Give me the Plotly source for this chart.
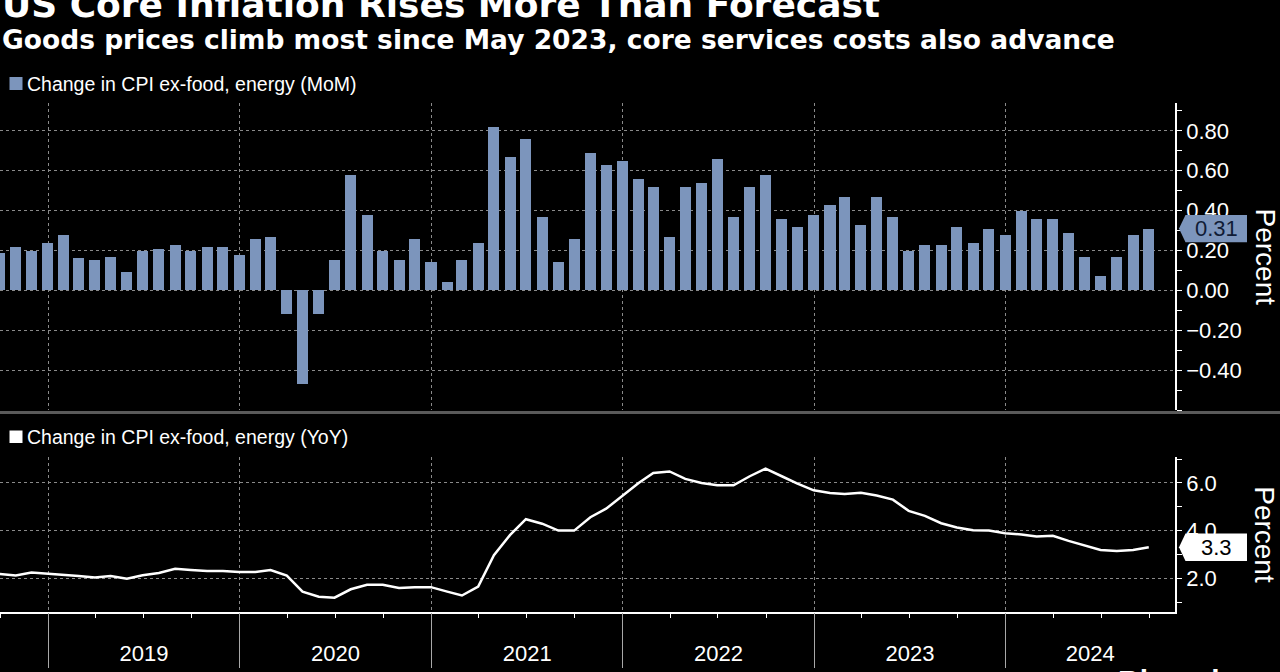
import plotly.graph_objects as go
import pandas as pd

# ---------------- data ----------------
months = pd.date_range("2018-09-01", periods=73, freq="MS") + pd.offsets.MonthEnd(0)

mom = [
    0.19, 0.22, 0.20, 0.24,                                              # 2018 Sep-Dec
    0.28, 0.16, 0.15, 0.17, 0.09, 0.20, 0.21, 0.23, 0.20, 0.22, 0.22, 0.18,  # 2019
    0.26, 0.27, -0.12, -0.47, -0.12, 0.15, 0.58, 0.38, 0.20, 0.15, 0.26, 0.14,  # 2020
    0.04, 0.15, 0.24, 0.82, 0.67, 0.76, 0.37, 0.14, 0.26, 0.69, 0.63, 0.65,  # 2021
    0.56, 0.52, 0.27, 0.52, 0.54, 0.66, 0.37, 0.52, 0.58, 0.36, 0.32, 0.38,  # 2022
    0.43, 0.47, 0.33, 0.47, 0.37, 0.20, 0.23, 0.23, 0.32, 0.24, 0.31, 0.28,  # 2023
    0.40, 0.36, 0.36, 0.29, 0.17, 0.07, 0.17, 0.28, 0.31,                # 2024 Jan-Sep
]

yoy = [
    2.18, 2.12, 2.24, 2.20,
    2.16, 2.10, 2.03, 2.10, 1.98, 2.13, 2.22, 2.40, 2.35, 2.31, 2.31, 2.27,
    2.27, 2.35, 2.11, 1.44, 1.23, 1.19, 1.54, 1.73, 1.73, 1.59, 1.63, 1.63,
    1.44, 1.28, 1.65, 2.97, 3.82, 4.48, 4.29, 4.00, 4.00, 4.56, 4.92, 5.47,
    6.00, 6.42, 6.48, 6.17, 6.00, 5.90, 5.90, 6.28, 6.60, 6.28, 5.97, 5.69,
    5.58, 5.54, 5.59, 5.47, 5.30, 4.83, 4.62, 4.31, 4.13, 4.02, 4.00, 3.89,
    3.84, 3.75, 3.78, 3.57, 3.36, 3.19, 3.15, 3.19, 3.30,
]

years = [2019, 2020, 2021, 2022, 2023, 2024]
mom_ticks = [-0.4, -0.2, 0.0, 0.2, 0.4, 0.6, 0.8]
yoy_ticks = [2.0, 4.0, 6.0]

title = "US Core Inflation Rises More Than Forecast"
subtitle = "Goods prices climb most since May 2023, core services costs also advance"
legend_mom = "Change in CPI ex-food, energy (MoM)"
legend_yoy = "Change in CPI ex-food, energy (YoY)"

# ---------------- styling / layout geometry ----------------
W, H = 1280, 672
ML, MR = 0, 105
PW = W - ML - MR

def py(p):
    return 1 - p / H

def px(p):
    return p / PW

BAR = "#7c95bc"
GRID = "#8a8a8a"
FONT = "Liberation Sans, Arial, sans-serif"
BOLD = "DejaVu Sans, Verdana, sans-serif"

x_range = [pd.Timestamp("2018-10-01"), pd.Timestamp("2024-11-19")]
mom_range = [-0.6, 0.94]
yoy_range = [0.6, 7.1]

# year label positions: centre of the visible part of each year
label_pos = []
for yr in years:
    a = max(pd.Timestamp(f"{yr}-01-01"), x_range[0])
    b = min(pd.Timestamp(f"{yr + 1}-01-01"), x_range[1])
    label_pos.append(a + (b - a) / 2)

fig = go.Figure()
fig.add_trace(go.Bar(
    x=months, y=mom, xaxis="x", yaxis="y",
    marker=dict(color=BAR, line=dict(width=0)),
    width=21 * 86400000, showlegend=False, hoverinfo="skip",
))
fig.add_trace(go.Scatter(
    x=months, y=yoy, xaxis="x2", yaxis="y2", mode="lines",
    line=dict(color="white", width=2.5), showlegend=False, hoverinfo="skip",
))
# empty trace so that the overlaid label axis (x3) gets drawn
fig.add_trace(go.Scatter(x=[], y=[], xaxis="x3", yaxis="y2", mode="lines",
                         showlegend=False, hoverinfo="skip"))

common_x = dict(type="date", range=x_range, showgrid=True, gridcolor=GRID,
                griddash="dot", gridwidth=1, dtick="M12", tick0="2019-01-01",
                zeroline=False, automargin=False)

top_dom = [py(410), py(103)]
bot_dom = [py(611.7), py(456.7)]

fig.update_layout(
    width=W, height=H,
    margin=dict(l=ML, r=MR, t=0, b=0, pad=0),
    paper_bgcolor="black", plot_bgcolor="black",
    font=dict(family=FONT, color="white"),
    bargap=0,
    xaxis=dict(common_x, domain=[0, 1], anchor="y", showticklabels=False,
               ticks="", showline=False),
    xaxis2=dict(common_x, domain=[0, 1], anchor="y2", showticklabels=False,
                ticks="outside", ticklen=55, tickwidth=1, tickcolor="#a8a8a8",
                showline=True, linecolor="white", linewidth=1.5,
                minor=dict(dtick="M3", tick0="2019-01-01", ticks="outside",
                           ticklen=5, tickwidth=1, tickcolor="white", showgrid=False)),
    xaxis3=dict(type="date", range=x_range, overlaying="x2", anchor="y2", side="bottom",
                tickmode="array", tickvals=label_pos, ticktext=[str(y) for y in years],
                ticks="outside", ticklen=22, tickcolor="rgba(0,0,0,0)",
                showgrid=False, showline=False, zeroline=False, showticklabels=True,
                tickfont=dict(size=22, color="white", family=FONT), automargin=False),
    yaxis=dict(domain=top_dom, anchor="x", side="right", range=mom_range,
               tickmode="array", tickvals=mom_ticks, tickformat=".2f",
               ticks="outside", ticklen=5, tickwidth=1, tickcolor="white",
               showline=True, linecolor="white", linewidth=1.5,
               showgrid=True, gridcolor=GRID, griddash="dot", gridwidth=1,
               zeroline=False, tickfont=dict(size=22, color="white"),
               minor=dict(tickmode="linear", tick0=0, dtick=0.1, ticks="outside",
                          ticklen=5, tickwidth=1, tickcolor="white", showgrid=False),
               automargin=False),
    yaxis2=dict(domain=bot_dom, anchor="x2", side="right", range=yoy_range,
                tickmode="array", tickvals=yoy_ticks, tickformat=".1f",
                ticks="outside", ticklen=5, tickwidth=1, tickcolor="white",
                showline=True, linecolor="white", linewidth=1.5,
                showgrid=True, gridcolor=GRID, griddash="dot", gridwidth=1,
                zeroline=False, tickfont=dict(size=22, color="white"),
                minor=dict(tickmode="linear", tick0=0, dtick=1, ticks="outside",
                           ticklen=5, tickwidth=1, tickcolor="white", showgrid=False),
                automargin=False),
)

shapes = []
annotations = []

# separator between the panels
shapes.append(dict(type="line", xref="paper", yref="paper", x0=0, x1=W / PW,
                   y0=py(412.5), y1=py(412.5), line=dict(color="#5a5a5a", width=3)))

# legend squares
shapes.append(dict(type="rect", xref="paper", yref="paper", x0=px(9.5), x1=px(22.5),
                   y0=py(90), y1=py(77), fillcolor=BAR, line=dict(width=0)))
shapes.append(dict(type="rect", xref="paper", yref="paper", x0=px(9.5), x1=px(22.5),
                   y0=py(443), y1=py(430.5), fillcolor="white", line=dict(width=0)))

annotations.append(dict(text=legend_mom, xref="paper", yref="paper", x=px(25), y=py(84),
                        xanchor="left", yanchor="middle", showarrow=False,
                        font=dict(size=19.5, color="white", family=FONT)))
annotations.append(dict(text=legend_yoy, xref="paper", yref="paper", x=px(25), y=py(437),
                        xanchor="left", yanchor="middle", showarrow=False,
                        font=dict(size=19.5, color="white", family=FONT)))

# titles
annotations.append(dict(text=f"<b>{title}</b>", xref="paper", yref="paper", x=0,
                        y=py(4.4), xanchor="left", yanchor="middle", showarrow=False,
                        font=dict(size=36, color="white", family=BOLD)))
annotations.append(dict(text=f"<b>{subtitle}</b>", xref="paper", yref="paper", x=0,
                        y=py(39), xanchor="left", yanchor="middle", showarrow=False,
                        font=dict(size=26.5, color="white", family=BOLD)))

# axis titles "Percent" (reads top to bottom)
for dom in (top_dom, bot_dom):
    annotations.append(dict(text="Percent", xref="paper", yref="paper", x=px(1265),
                            y=(dom[0] + dom[1]) / 2, xanchor="center", yanchor="middle",
                            textangle=90, showarrow=False,
                            font=dict(size=28, color="white", family=FONT)))

# last-value tags
def tag(yref, v, half, fill, txtcol, txt):
    xt, xb, xr = px(1179), px(1185.5), px(1247)
    path = (f"M {xt},{v} L {xb},{v + half} L {xr},{v + half} "
            f"L {xr},{v - half} L {xb},{v - half} Z")
    shapes.append(dict(type="path", xref="paper", yref=yref, path=path,
                       fillcolor=fill, line=dict(width=0), layer="above"))
    annotations.append(dict(text=txt, xref="paper", yref=yref, x=(xb + xr) / 2, y=v,
                            xanchor="center", yanchor="middle", showarrow=False,
                            font=dict(size=22, color=txtcol, family=FONT)))

top_scale = (410 - 103) / (mom_range[1] - mom_range[0])
bot_scale = (611.7 - 456.7) / (yoy_range[1] - yoy_range[0])
tag("y", mom[-1], 13.7 / top_scale, BAR, "#101c36", f"{mom[-1]:.2f}")
tag("y2", yoy[-1], 13.8 / bot_scale, "white", "black", f"{yoy[-1]:.1f}")

# source logo (cut off at the bottom edge)
annotations.append(dict(text="<b>Bloomberg</b>", xref="paper", yref="paper", x=px(1116),
                        y=py(662), xanchor="left", yanchor="top", showarrow=False,
                        font=dict(size=30, color="white", family=FONT)))

fig.update_layout(shapes=shapes, annotations=annotations)

fig.write_html("out.html")
